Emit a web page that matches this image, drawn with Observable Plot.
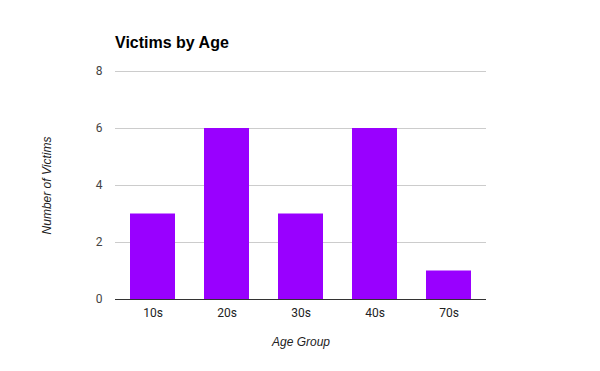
<!DOCTYPE html>
<html>
<head>
<meta charset="utf-8">
<script src="https://cdn.jsdelivr.net/npm/d3@7"></script>
<script src="https://cdn.jsdelivr.net/npm/@observablehq/plot@0.6"></script>
<style>
  html, body { margin: 0; padding: 0; background: #fff; }
  #wrap { position: relative; width: 600px; height: 371px; }
  #title { position: absolute; left: 115px; top: 34px; margin: 0; font-family: "Liberation Sans", Arial, sans-serif; font-weight: bold; font-size: 16px; color: #000; }
</style>
</head>
<body>
<div id="wrap">
  <div id="title">Victims by Age</div>
</div>
<script>
const categories = ["10s", "20s", "30s", "40s", "70s"];
const victims = [3, 6, 3, 6, 1];
const yTicks = [0, 2, 4, 6, 8];

const data = categories.map((c, i) => ({ age: c, count: victims[i] }));

const chart = Plot.plot({
  width: 600,
  height: 371,
  marginLeft: 115,
  marginRight: 114,
  marginTop: 71,
  marginBottom: 72,
  style: { fontFamily: "Roboto, 'Liberation Sans', Arial, sans-serif", fontSize: "12px", color: "#444", background: "transparent" },
  x: { domain: categories, paddingInner: 0.39, paddingOuter: 0.195, label: null, tickSize: 0, tickPadding: 9 },
  y: { domain: [0, 8], ticks: yTicks, label: null, tickSize: 0, tickPadding: 13 },
  marks: [
    Plot.gridY(yTicks, { stroke: "#ccc", strokeOpacity: 1 }),
    Plot.barY(data, { x: "age", y: "count", fill: "#9900ff" }),
    Plot.ruleY([0], { stroke: "#333", strokeWidth: 1 }),
    Plot.axisX({ tickSize: 0, tickPadding: 9, fontSize: 12, fill: "#222", label: null }),
    Plot.axisY(yTicks, { tickSize: 0, tickPadding: 13, fontSize: 12, fill: "#444", label: null }),
    Plot.text(["Age Group"], { frameAnchor: "bottom", dy: 46, fontStyle: "italic", fontSize: 12, fontFamily: "'Liberation Sans', Arial, sans-serif", fill: "#222" }),
    Plot.text(["Number of Victims"], { frameAnchor: "left", textAnchor: "middle", dx: -68, dy: 0, rotate: -90, fontStyle: "italic", fontSize: 12, fontFamily: "'Liberation Sans', Arial, sans-serif", fill: "#222" })
  ]
});
chart.style.position = "absolute";
chart.style.left = "0";
chart.style.top = "0";
document.getElementById("wrap").appendChild(chart);
</script>
</body>
</html>
